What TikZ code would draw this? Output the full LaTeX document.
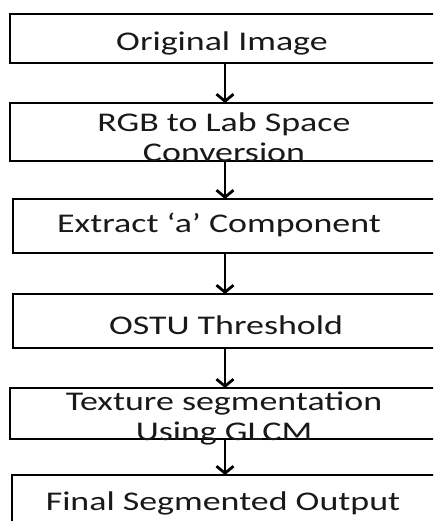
\documentclass[tikz,border=0pt]{standalone}
\usepackage{fontspec}
\setmainfont{Carlito}
\newfontfamily\wide[FakeStretch=1.33]{Carlito}
\usetikzlibrary{arrows.meta}
\begin{document}
\begin{tikzpicture}[x=1pt,y=1pt,
  box/.style={draw=black, line width=2.8pt, anchor=north west, inner sep=0pt, outer sep=0pt},
  lbl/.style={inner sep=0pt, text=black!90, font=\wide\fontsize{27}{30}\selectfont, align=center},
  flow/.style={line width=2.8pt, -{Straight Barb[length=7pt,width=17pt,line width=2.8pt]}}]
\useasboundingbox (0,0) rectangle (433,521);
\clip (0,0) rectangle (433,521);
\node[box, minimum width=440pt, minimum height=49pt] (b1) at (10,507) {};
\node[box, minimum width=440pt, minimum height=58pt] (b2) at (10,418) {};
\node[box, minimum width=437pt, minimum height=54pt] (b3) at (13,322) {};
\node[box, minimum width=437pt, minimum height=54pt] (b4) at (13,227) {};
\node[box, minimum width=440pt, minimum height=51pt] (b5) at (10,133) {};
\node[box, minimum width=438pt, minimum height=70pt] (b6) at (12,46) {};
\node[lbl] (t1) at (222,478) {Original Image};
\node[lbl] (t2) at (224,384) {RGB to Lab Space\\Conversion};
\node[lbl] (t3) at (219,296) {Extract ‘a’ Component};
\node[lbl] (t4) at (226,196) {OSTU Threshold};
\node[lbl] (t5) at (224,103) {Texture segmentation\\Using GLCM};
\node[lbl] (t6) at (223,18) {Final Segmented Output};
\coordinate (ax) at (225,0);
\draw[flow] (ax |- b1.south) -- (ax |- b2.north);
\draw[flow] (ax |- b2.south) -- (ax |- b3.north);
\draw[flow] (ax |- b3.south) -- (ax |- b4.north);
\draw[flow] (ax |- b4.south) -- (ax |- b5.north);
\draw[flow] (ax |- b5.south) -- (ax |- b6.north);
\end{tikzpicture}
\end{document}
